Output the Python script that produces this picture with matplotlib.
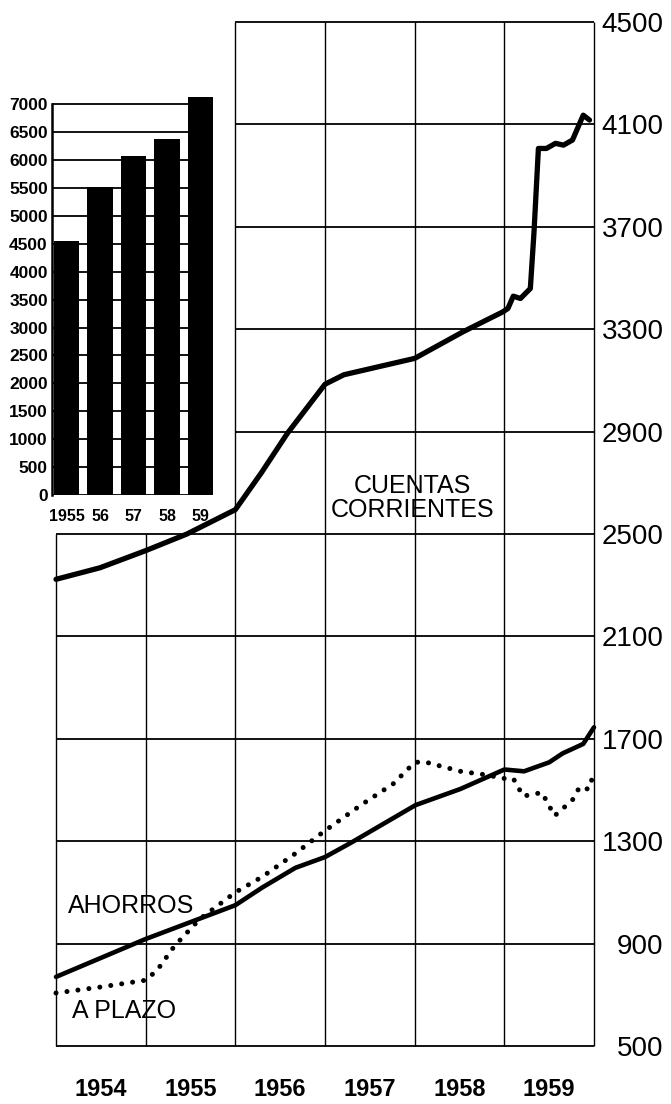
import numpy as np
import matplotlib
matplotlib.use('Agg')
import matplotlib.pyplot as plt

plt.rcParams['font.family'] = ['Liberation Sans', 'DejaVu Sans']

# main chart: time (fraction of year) vs value
cuentas_t = [1954.00, 1954.49, 1955.00, 1955.46, 1956.00, 1956.29, 1956.58, 1957.00,
             1957.21, 1958.00, 1958.54, 1958.985, 1959.04, 1959.10, 1959.18, 1959.29,
             1959.33, 1959.38, 1959.47, 1959.57, 1959.66, 1959.76, 1959.88, 1959.95]
cuentas_v = [2323, 2368, 2435, 2500, 2595, 2739, 2893, 3085,
             3122, 3186, 3290, 3368, 3381, 3429, 3420, 3459,
             3674, 4006, 4006, 4026, 4019, 4039, 4136, 4117]

ahorros_t = [1954.00, 1955.00, 1956.00, 1956.30, 1956.67, 1957.00, 1957.29, 1958.01,
             1958.51, 1959.00, 1959.22, 1959.50, 1959.65, 1959.88, 1960.00]
ahorros_v = [770, 918, 1050, 1119, 1196, 1238, 1294, 1441,
             1504, 1580, 1573, 1608, 1643, 1680, 1745]

plazo_t = [1954.00, 1954.49, 1955.00, 1955.13, 1955.32, 1955.60, 1956.00, 1956.30,
           1956.67, 1956.98, 1957.40, 1957.76, 1958.00, 1958.11, 1958.51, 1958.80,
           1959.00, 1959.10, 1959.21, 1959.42, 1959.56, 1959.76, 1959.84, 1959.94, 1960.00]
plazo_v = [707, 730, 757, 797, 890, 995, 1100, 1161,
           1252, 1336, 1441, 1524, 1608, 1610, 1573, 1559,
           1545, 1545, 1476, 1490, 1399, 1461, 1512, 1503, 1566]

years = ['1954', '1955', '1956', '1957', '1958', '1959']
right_ticks = list(range(500, 4501, 400))

# inset bar chart
bar_labels = ['1955', '56', '57', '58', '59']
bar_values = [4553, 5509, 6069, 6368, 7131]
inset_ticks = list(range(0, 7001, 500))

fig = plt.figure(figsize=(6.71, 11.04), dpi=100)
W, H = 671, 1104

ax = fig.add_axes([56 / W, 58 / H, 538 / W, 1024 / H])
ax.set_xlim(1954, 1960)
ax.set_ylim(500, 4500)
for s in ax.spines.values():
    s.set_visible(False)

# grid (upper-left block is left empty for the inset)
for v in right_ticks:
    x0 = 1954 if v <= 2500 else 1956
    ax.hlines(v, x0, 1960, color='k', lw=1.3, zorder=1, clip_on=False)
for yr in range(1954, 1961):
    top = 2500 if yr < 1956 else 4500
    ax.vlines(yr, 500, top, color='k', lw=1.0, zorder=1, clip_on=False)

ax.plot(cuentas_t, cuentas_v, color='k', lw=3.8, solid_joinstyle='round',
        solid_capstyle='round', zorder=3, clip_on=False)
ax.plot(ahorros_t, ahorros_v, color='k', lw=3.3, solid_joinstyle='round',
        solid_capstyle='round', zorder=3, clip_on=False)
ax.plot(plazo_t, plazo_v, color='k', lw=3.6, linestyle=(0, (0.01, 2.2)),
        dash_capstyle='round', zorder=3, clip_on=False)

ax.text(1957.98, 2642, 'CUENTAS\nCORRIENTES', ha='center', va='center',
        fontsize=18, linespacing=1.0)
ax.text(1954.135, 1047, 'AHORROS', ha='left', va='center', fontsize=18)
ax.text(1954.18, 637, 'A PLAZO', ha='left', va='center', fontsize=18)

ax.yaxis.tick_right()
ax.set_yticks(right_ticks)
ax.set_yticklabels([str(v) for v in right_ticks])
ax.tick_params(axis='y', length=0, pad=50, labelsize=20)
for lbl in ax.get_yticklabels():
    lbl.set_horizontalalignment('right')

ax.set_xticks([1954.5 + i for i in range(len(years))])
ax.set_xticklabels(years)
ax.tick_params(axis='x', length=0, pad=23, labelsize=17)
for lbl in ax.get_xticklabels():
    lbl.set_fontweight('bold')

# inset
axi = fig.add_axes([52 / W, (H - 495) / H, 161 / W, 402 / H])
axi.set_xlim(-0.433, 4.373)
axi.set_ylim(0, 7200)
axi.hlines(inset_ticks, -0.433, 4.373, color='k', lw=1.3, zorder=1)
axi.bar(range(len(bar_values)), bar_values, width=0.75, color='k', zorder=3)
for k in ['top', 'right', 'bottom']:
    axi.spines[k].set_visible(False)
axi.spines['left'].set_linewidth(1.8)
axi.spines['left'].set_bounds(0, 7000)
axi.set_yticks(inset_ticks)
axi.set_yticklabels([str(v) for v in inset_ticks])
axi.tick_params(axis='y', length=0, pad=3, labelsize=12.5)
axi.set_xticks(range(len(bar_labels)))
axi.set_xticklabels(bar_labels)
axi.tick_params(axis='x', length=0, pad=10, labelsize=11.5)
for lbl in axi.get_yticklabels() + axi.get_xticklabels():
    lbl.set_fontweight('bold')

fig.savefig('out.png', dpi=100)
